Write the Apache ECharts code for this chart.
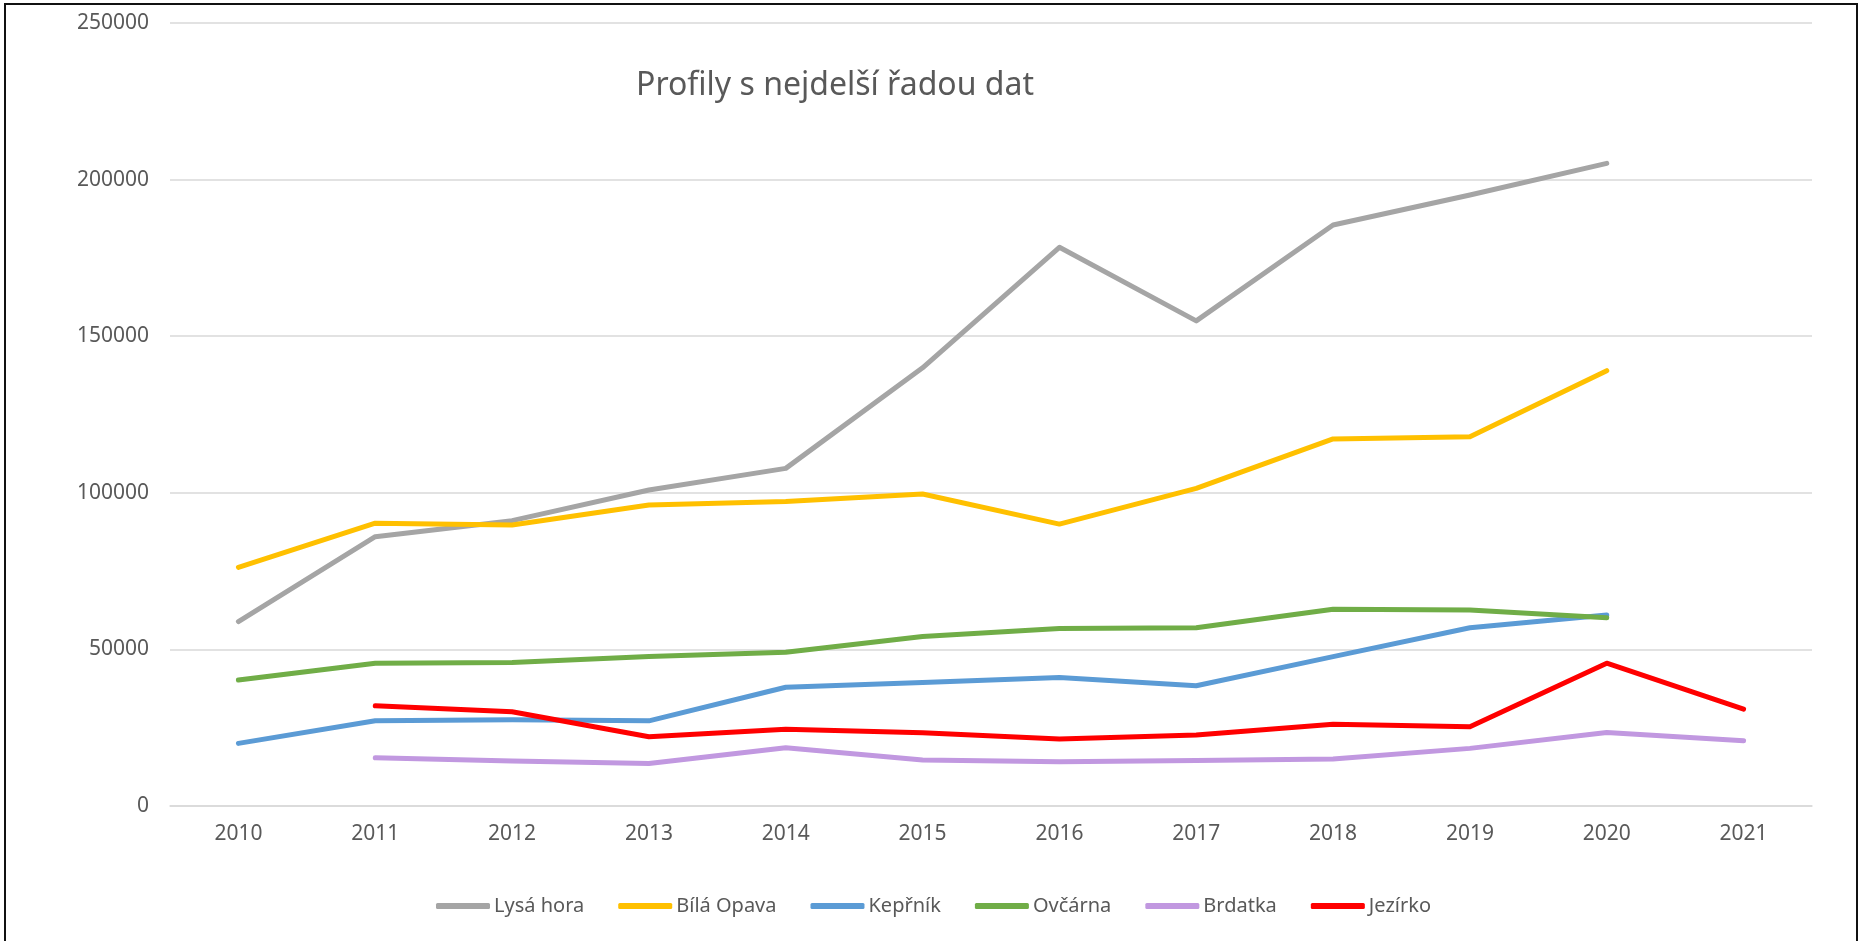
<!DOCTYPE html>
<html>
<head>
<meta charset="utf-8">
<title>Profily s nejdelší řadou dat</title>
<script src="https://cdn.jsdelivr.net/npm/echarts@6/dist/echarts.min.js"></script>
<style>
  html, body { margin: 0; padding: 0; background: #fff; overflow: hidden; }
  #chart { width: 1860px; height: 941px; }
  #frame {
    position: absolute; left: 4px; top: 3px; width: 1850px; height: 960px;
    border: 2px solid #111; border-bottom: none; pointer-events: none;
  }
</style>
</head>
<body>
<div id="chart"></div>
<div id="frame"></div>
<script>
// roky
var years = ['2010', '2011', '2012', '2013', '2014', '2015', '2016', '2017', '2018', '2019', '2020', '2021'];

// hodnoty
var lysaHora  = [58900, 86000, 91100, 100900, 107800, 139900, 178400, 154900, 185500, 195100, 205200, null];
var bilaOpava = [76200, 90300, 89700, 96100, 97200, 99600, 90000, 101400, 117200, 117900, 139000, null];
var keprnik   = [20000, 27200, 27500, 27200, 37900, 39400, 41000, 38400, 47700, 56900, 61000, null];
var ovcarna   = [40200, 45600, 45800, 47700, 49100, 54100, 56700, 56900, 62800, 62600, 60100, null];
var brdatka   = [null, 15400, 14400, 13600, 18600, 14700, 14100, 14500, 15000, 18400, 23500, 20800];
var jezirko   = [null, 32000, 30100, 22100, 24500, 23400, 21400, 22700, 26100, 25300, 45600, 30900];

var seriesNames  = ['Lysá hora', 'Bílá Opava', 'Kepřník', 'Ovčárna', 'Brdatka', 'Jezírko'];
var seriesData   = [lysaHora, bilaOpava, keprnik, ovcarna, brdatka, jezirko];
var seriesColors = ['#A5A5A5', '#FFC000', '#5B9BD5', '#70AD47', '#C198E0', '#FF0000'];

var font = '"Noto Sans", "Open Sans", sans-serif';

var myChart = echarts.init(document.getElementById('chart'));

var series = [];
for (let i = 0; i < seriesNames.length; i++) {
  series.push({
    name: seriesNames[i],
    type: 'line',
    data: seriesData[i],
    showSymbol: false,
    symbol: 'none',
    connectNulls: false,
    lineStyle: { width: 5, color: seriesColors[i], cap: 'round', join: 'round' },
    itemStyle: { color: seriesColors[i] },
    emphasis: { disabled: true }
  });
}

var option = {
  animation: false,
  color: seriesColors,
  title: {
    text: 'Profily s nejdelší řadou dat',
    left: 830,
    top: 65,
    textAlign: 'center',
    textStyle: { fontFamily: font, fontSize: 32, fontWeight: 'normal', color: '#595959' }
  },
  grid: { left: 170, right: 48, top: 23, bottom: 135, containLabel: false },
  legend: {
    data: seriesNames,
    left: 431,
    top: 891,
    itemWidth: 54,
    itemHeight: 6,
    itemGap: 34,
    icon: 'roundRect',
    textStyle: { fontFamily: font, fontSize: 20, color: '#595959', padding: [0, 0, 0, -1] }
  },
  xAxis: {
    type: 'category',
    data: years,
    boundaryGap: true,
    axisLine: { show: true, lineStyle: { color: '#D9D9D9', width: 1.5 } },
    axisTick: { show: false },
    axisLabel: { fontFamily: font, fontSize: 21, color: '#595959', margin: 18 }
  },
  yAxis: {
    type: 'value',
    min: 0,
    max: 250000,
    interval: 50000,
    axisLine: { show: false },
    axisTick: { show: false },
    splitLine: { lineStyle: { color: '#D9D9D9', width: 1.5 } },
    axisLabel: {
      fontFamily: font, fontSize: 21, color: '#595959', margin: 21,
      formatter: function (v) { return String(v); }
    }
  },
  series: series
};

myChart.setOption(option);
</script>
</body>
</html>
